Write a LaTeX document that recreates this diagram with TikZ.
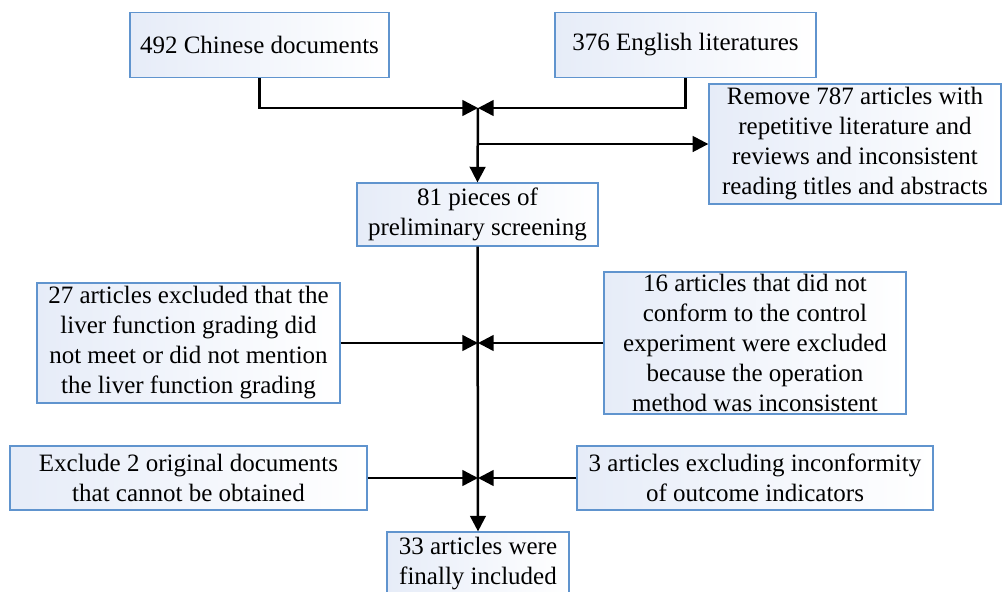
\documentclass[tikz,border=0pt]{standalone}
\usepackage{fontspec}
\setmainfont{Liberation Serif}
\usepackage{tikz}
\usetikzlibrary{calc, positioning, arrows.meta}
\usepackage{xcolor}
\definecolor{boxLine}{RGB}{96, 148, 206}
\definecolor{boxFill}{RGB}{230, 236, 248}

\begin{document}
\begin{tikzpicture}[x=0.48pt, y=-0.48pt, >={Triangle[length=7.5pt, width=7.5pt]},
    font=\fontsize{12}{14.4}\selectfont,
    stagebox/.style={draw=boxLine, line width=0.6pt, left color=boxFill, right color=white,
      align=center, inner sep=0pt},
    flow/.style={line width=1.2pt}]
  \useasboundingbox (0,0) rectangle (1002,591);

  % sources
  \node[stagebox, minimum width=124.3pt, minimum height=31.2pt] (chn) at (259.5,45)
    {492 Chinese documents};
  \node[stagebox, minimum width=125.3pt, minimum height=31.2pt] (eng) at (685.5,45)
    {376 English literatures};
  \node[stagebox, minimum width=140.2pt, minimum height=57.6pt] (rem) at (855,144)
    {Remove 787 articles with\\repetitive literature and\\reviews and inconsistent\\reading titles and abstracts};
  \node[stagebox, minimum width=115.7pt, minimum height=30.2pt] (pre) at (477.5,214.5)
    {81 pieces of\\preliminary screening};

  % exclusions
  \node[stagebox, minimum width=145.4pt, minimum height=57.6pt] (liv) at (188.5,343)
    {27 articles excluded that the\\liver function grading did\\not meet or did not mention\\the liver function grading};
  \node[stagebox, minimum width=145pt, minimum height=68.2pt] (ctl) at (755,343)
    {16 articles that did not\\conform to the control\\experiment were excluded\\because the operation\\method was inconsistent};
  \node[stagebox, minimum width=171.4pt, minimum height=30.7pt] (obt) at (188.5,478)
    {Exclude 2 original documents\\that cannot be obtained};
  \node[stagebox, minimum width=170.9pt, minimum height=30.7pt] (out) at (755,478)
    {3 articles excluding inconformity\\of outcome indicators};
  \node[stagebox, minimum width=87.4pt, minimum height=30.2pt] (fin) at (478,563.5)
    {33 articles were\\finally included};

  \coordinate (j1) at (478,108);
  \coordinate (j2) at (478,343);
  \coordinate (j3) at (478,478);

  \draw[flow, ->] (chn.south) |- (j1);
  \draw[flow, ->] (eng.south) |- (j1);
  \draw[flow, ->] (j1) -- (pre.north);
  \draw[flow, ->] (rem.west -| j1) -- (rem.west);
  \draw[flow, ->] (pre.south) -- (fin.north);
  \draw[flow, ->] (liv.east) -- (j2);
  \draw[flow, ->] (ctl.west) -- (j2);
  \draw[flow, ->] (obt.east) -- (j3);
  \draw[flow, ->] (out.west) -- (j3);
\end{tikzpicture}
\end{document}
